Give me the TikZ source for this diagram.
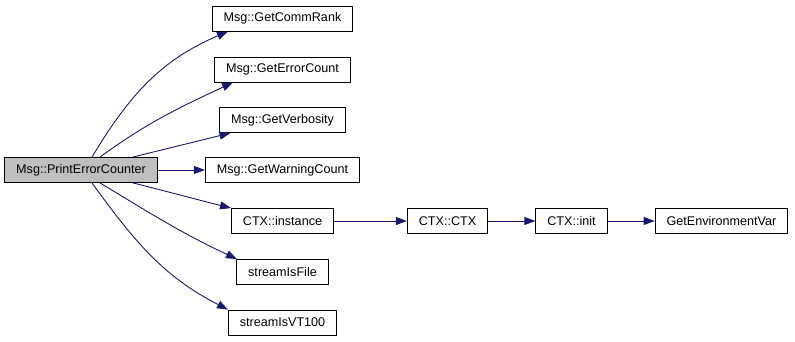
\documentclass[tikz,border=0pt]{standalone}
\usepackage{fontspec}
\setmainfont{Liberation Sans}
\usetikzlibrary{arrows.meta}
\definecolor{edgeblue}{HTML}{191970}
\definecolor{rootgray}{HTML}{BFBFBF}

\begin{document}
\begin{tikzpicture}[
  x=1pt, y=-1pt,
  font=\fontsize{12.6}{15}\selectfont,
  fnbox/.style={draw=black, fill=white, line width=0.9pt, inner xsep=11.5pt,
                inner ysep=0pt, minimum height=25pt, anchor=center},
  rootbox/.style={fnbox, fill=rootgray},
  arr/.style={-{Triangle[length=11pt,width=8pt]}, line width=0.9pt, color=edgeblue},
]
\useasboundingbox (0,0) rectangle (795,341);

% Caller
\node[rootbox] (PEC) at (81,170) {Msg::PrintErrorCounter};

% Direct callees
\node[fnbox] (GCR) at (282.5,18.5)  {Msg::GetCommRank};
\node[fnbox] (GEC) at (282.5,69.5)  {Msg::GetErrorCount};
\node[fnbox] (GV)  at (282.5,120)   {Msg::GetVerbosity};
\node[fnbox] (GWC) at (282.5,170)   {Msg::GetWarningCount};
\node[fnbox] (CI)  at (282.5,221)   {CTX::instance};
\node[fnbox] (SF)  at (282.5,272)   {streamIsFile};
\node[fnbox] (SV)  at (282.5,322.5) {streamIsVT100};

% CTX chain
\node[fnbox] (CC)   at (447.5,221) {CTX::CTX};
\node[fnbox] (INIT) at (571.5,221) {CTX::init};
\node[fnbox] (GEV)  at (721.5,221) {GetEnvironmentVar};

% Arrows
\draw[arr] ([xshift=11pt]PEC.north) to[out=59,in=203] ([xshift=-54.5pt]GCR.south);
\draw[arr] ([xshift=19pt]PEC.north) to[out=36,in=205] ([xshift=-49.5pt]GEC.south);
\draw[arr] ([xshift=52pt]PEC.north) to[out=14,in=194] ([xshift=-52pt]GV.south);
\draw[arr] (PEC.east) -- (GWC.west);
\draw[arr] ([xshift=52pt]PEC.south) to[out=-14,in=166] (CI.north west);
\draw[arr] ([xshift=19pt]PEC.south) to[out=-31,in=155] ([xshift=-45.5pt]SF.north);
\draw[arr] ([xshift=11pt]PEC.south) to[out=-54,in=153] ([xshift=-54.5pt]SV.north);
\foreach \a/\b in {CI/CC, CC/INIT, INIT/GEV} { \draw[arr] (\a.east) -- (\b.west); }

\end{tikzpicture}
\end{document}
